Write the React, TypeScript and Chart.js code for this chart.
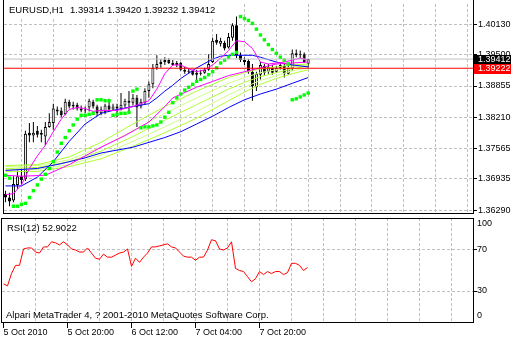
import React, { useEffect, useRef } from 'react';
import { Chart, registerables } from 'chart.js';

Chart.register(...registerables);

// ---------------- data ----------------
const symbolTitle = 'EURUSD,H1';
const lastBarText = ['1.39314', '1.39420', '1.39232', '1.39412'];
const rsiTitle = 'RSI(12) 52.9022';
const copyright = 'Alpari MetaTrader 4, ? 2001-2010 MetaQuotes Software Corp.';

const opens = [
  1.3663, 1.3655, 1.3649, 1.3681, 1.3699, 1.3693, 1.3789, 1.3783, 1.3793, 1.3785,
  1.3781, 1.3801, 1.3809, 1.3837, 1.3835, 1.3827, 1.3853, 1.3843, 1.3847, 1.3839,
  1.3835, 1.3841, 1.3853, 1.3843, 1.3829, 1.3831, 1.3845, 1.3837, 1.3843, 1.3839,
  1.3845, 1.3855, 1.3851, 1.3861, 1.3843, 1.3851, 1.3875, 1.3889, 1.3923, 1.3931,
  1.3935, 1.3939, 1.3933, 1.3929, 1.3933, 1.3919, 1.3915, 1.3917, 1.3909, 1.3913,
  1.3913, 1.3919, 1.3935, 1.3981, 1.3973, 1.3975, 1.3965, 1.3985, 1.4011, 1.3949,
  1.3939, 1.3937, 1.3915, 1.3883, 1.3909, 1.3927, 1.3915, 1.3923, 1.3915, 1.3923,
  1.3927, 1.3911, 1.3921, 1.3953, 1.3949, 1.3951, 1.39314,
];
const highs = [
  1.3669, 1.3665, 1.3699, 1.3711, 1.3715, 1.3793, 1.3809, 1.3811, 1.3803, 1.3795,
  1.3811, 1.3829, 1.3849, 1.3843, 1.3841, 1.3859, 1.3857, 1.3853, 1.3851, 1.3845,
  1.3843, 1.3859, 1.3857, 1.3847, 1.3843, 1.3849, 1.3859, 1.3849, 1.3849, 1.3871,
  1.3859, 1.3875, 1.3869, 1.3867, 1.3859, 1.3881, 1.3895, 1.3931, 1.3949, 1.3941,
  1.3945, 1.3943, 1.3939, 1.3937, 1.3935, 1.3925, 1.3921, 1.3919, 1.3919, 1.3919,
  1.3923, 1.3951, 1.3985, 1.3993, 1.3985, 1.3979, 1.3995, 1.4015, 1.4029, 1.3955,
  1.3945, 1.3941, 1.3931, 1.3915, 1.3935, 1.3931, 1.3931, 1.3929, 1.3927, 1.3933,
  1.3931, 1.3927, 1.3961, 1.3961, 1.3959, 1.3955, 1.3942,
];
const lows = [
  1.3645, 1.3637, 1.3645, 1.3673, 1.3683, 1.3689, 1.3769, 1.3769, 1.3779, 1.3769,
  1.3763, 1.3799, 1.3795, 1.3825, 1.3821, 1.3825, 1.3839, 1.3837, 1.3835, 1.3831,
  1.3829, 1.3833, 1.3839, 1.3823, 1.3825, 1.3827, 1.3833, 1.3835, 1.3821, 1.3835,
  1.3841, 1.3829, 1.3845, 1.3801, 1.3839, 1.3847, 1.3861, 1.3881, 1.3919, 1.3923,
  1.3929, 1.3931, 1.3927, 1.3925, 1.3917, 1.3911, 1.3911, 1.3907, 1.3895, 1.3907,
  1.3911, 1.3917, 1.3933, 1.3971, 1.3967, 1.3959, 1.3963, 1.3979, 1.3943, 1.3935,
  1.3929, 1.3911, 1.3855, 1.3875, 1.3899, 1.3907, 1.3911, 1.3909, 1.3913, 1.3919,
  1.3903, 1.3909, 1.3917, 1.3945, 1.3943, 1.3933, 1.39232,
];
const closes = [
  1.3655, 1.3647, 1.3683, 1.3699, 1.3691, 1.3787, 1.3783, 1.3789, 1.3785, 1.3789,
  1.3801, 1.3811, 1.3839, 1.3833, 1.3825, 1.3853, 1.3843, 1.3847, 1.3839, 1.3835,
  1.3837, 1.3855, 1.3843, 1.3829, 1.3837, 1.3845, 1.3837, 1.3843, 1.3839, 1.3847,
  1.3855, 1.3851, 1.3861, 1.3841, 1.3853, 1.3875, 1.3889, 1.3923, 1.3931, 1.3935,
  1.3939, 1.3933, 1.3929, 1.3933, 1.3919, 1.3915, 1.3917, 1.3909, 1.3913, 1.3911,
  1.3919, 1.3931, 1.3979, 1.3975, 1.3979, 1.3963, 1.3987, 1.4011, 1.3949, 1.3939,
  1.3935, 1.3915, 1.3885, 1.3911, 1.3929, 1.3913, 1.3925, 1.3913, 1.3923, 1.3929,
  1.3911, 1.3923, 1.3953, 1.3949, 1.3951, 1.3935, 1.39412,
];

// Parabolic SAR, one value per bar
const sar = [
  1.3701, 1.3695, 1.3637, 1.3637, 1.3641, 1.3643, 1.3655, 1.3669, 1.3681, 1.3693,
  1.3703, 1.3715, 1.3729, 1.3749, 1.3767, 1.3779, 1.3793, 1.3805, 1.3817, 1.3825,
  1.3825, 1.3827, 1.3829, 1.3857, 1.3857, 1.3855, 1.3855, 1.3825, 1.3827, 1.3829,
  1.3829, 1.3831, 1.3875, 1.3879, 1.3799, 1.3801, 1.3801, 1.3803, 1.3805, 1.3811,
  1.3821, 1.3831, 1.3851, 1.3861, 1.3869, 1.3877, 1.3883, 1.3889, 1.3895, 1.3899,
  1.3903, 1.3909, 1.3915, 1.3923, 1.3933, 1.3939, 1.3945, 1.3951, 1.3955, 1.4029,
  1.4025, 1.4021, 1.4015, 1.4003, 1.3991, 1.3981, 1.3971, 1.3961, 1.3953, 1.3945,
  1.3939, 1.3931, 1.3857, 1.3859, 1.3863, 1.3867, 1.3871,
];

// moving averages: [bar index, price]
const magentaFast = [
  [0, 1.3661], [2, 1.3663], [4, 1.3681], [6, 1.3715], [8, 1.3741], [10, 1.3763], [12, 1.3791],
  [14, 1.3817], [16, 1.3837], [18, 1.3841], [20, 1.3839], [22, 1.3833], [24, 1.3835], [26, 1.3835],
  [28, 1.3835], [30, 1.3839], [32, 1.3843], [34, 1.3849], [36, 1.3855], [38, 1.3879], [40, 1.3911],
  [42, 1.3929], [44, 1.3929], [46, 1.3921], [48, 1.3915], [50, 1.3919], [52, 1.3929], [54, 1.3943],
  [56, 1.3959], [58, 1.3979], [60, 1.3977], [62, 1.3963], [63, 1.3949], [64, 1.3935], [66, 1.3931],
  [70, 1.3935], [74, 1.3943], [76, 1.3939],
];
const magentaSlow = [
  [0, 1.3701], [4, 1.3699], [10, 1.3701], [16, 1.3723], [20, 1.3741], [24, 1.3759], [30, 1.3783],
  [36, 1.3811], [40, 1.3843], [42, 1.3861], [48, 1.3883], [52, 1.3895], [56, 1.3907], [60, 1.3915],
  [64, 1.3923], [68, 1.3931], [72, 1.3933], [76, 1.3935],
];
const blueFast = [
  [0, 1.3679], [4, 1.3679], [8, 1.3697], [12, 1.3729], [16, 1.3771], [20, 1.3807], [24, 1.3829],
  [28, 1.3837], [32, 1.3843], [36, 1.3849], [38, 1.3861], [40, 1.3875], [42, 1.3887], [44, 1.3901],
  [48, 1.3923], [52, 1.3941], [54, 1.3947], [56, 1.3949], [60, 1.3949], [62, 1.3949], [64, 1.3945],
  [68, 1.3935], [72, 1.3929], [76, 1.3925],
];
const blueSlow = [
  [0, 1.3711], [8, 1.3715], [14, 1.3725], [20, 1.3737], [24, 1.3747], [32, 1.3759], [40, 1.3779],
  [44, 1.3791], [48, 1.3807], [52, 1.3823], [56, 1.3841], [60, 1.3857], [64, 1.3869], [68, 1.3879],
  [72, 1.3891], [76, 1.3903],
];
const ribbonBars = [0, 8, 16, 24, 32, 40, 48, 56, 60, 64, 68, 72, 76];
const ribbon1 = [1.3721, 1.3723, 1.3739, 1.3769, 1.3807, 1.3843, 1.3875, 1.3903, 1.3913, 1.3921, 1.3925, 1.3929, 1.3931];
const ribbon2 = [1.3719, 1.3721, 1.3733, 1.3759, 1.3793, 1.3829, 1.3861, 1.3891, 1.3903, 1.3913, 1.3919, 1.3925, 1.3929];
const ribbon3 = [1.3715, 1.3717, 1.3729, 1.3751, 1.3781, 1.3815, 1.3847, 1.3879, 1.3893, 1.3905, 1.3913, 1.3921, 1.3927];
const ribbon4 = [1.3713, 1.3713, 1.3723, 1.3743, 1.3771, 1.3801, 1.3833, 1.3867, 1.3883, 1.3897, 1.3907, 1.3917, 1.3923];
const ribbon5 = [1.3709, 1.3709, 1.3719, 1.3735, 1.3761, 1.3789, 1.3819, 1.3855, 1.3873, 1.3889, 1.3901, 1.3911, 1.3919];

const bidPrice = 1.39412;
const hLinePrice = 1.39222;

const rsi = [
  37, 35, 47, 55, 55, 71, 72, 72, 68, 67,
  73, 73, 78, 77, 75, 78, 75, 71, 70, 68,
  68, 72, 67, 62, 61, 66, 63, 63, 65, 67,
  68, 71, 54, 62, 58, 63, 67, 73, 73, 74,
  75, 76, 73, 72, 68, 64, 63, 63, 60, 63,
  63, 70, 80, 79, 71, 70, 72, 78, 52, 50,
  49, 44, 39, 42, 49, 46, 49, 47, 49, 49,
  46, 48, 57, 57, 55, 50, 52.9022,
];

const priceTicks = [1.4013, 1.395, 1.38855, 1.3821, 1.37565, 1.36935, 1.3629];
const rsiLevels = [70, 30];
const rsiBoundLabels = ['100', '0'];
const gridBars = [8, 16, 24, 32, 40, 48, 56, 64, 72, 80, 88, 96, 104, 112];
const timeTickBars = [0, 8, 16, 24, 32, 40, 48, 56, 64, 72, 80, 88, 96, 104, 112];
const timeLabelBars = [0, 16, 32, 48, 64];
const timeLabels = ['5 Oct 2010', '5 Oct 20:00', '6 Oct 12:00', '7 Oct 04:00', '7 Oct 20:00'];

// ---------------- layout ----------------
const W = 511;
const MAIN_H = 217;
const RSI_H = 123;
const AXIS_W = 38;
const X_MIN = -0.375;
const X_MAX = 117.375;
const P_MIN = 1.3623;
const P_MAX = 1.4055;
const R_MIN = -1.2;
const R_MAX = 101.2;
const FONT = "'Liberation Sans', Arial, sans-serif";
const FS = 9;
const FS_TEXT = 9.5;
const GRID = '#C0C0C0';
const DASH = [3, 2];

export default function App() {
  const mainRef = useRef<HTMLCanvasElement | null>(null);
  const rsiRef = useRef<HTMLCanvasElement | null>(null);

  useEffect(() => {
    document.body.style.margin = '0';
    const bars = opens.map((_, i) => i);
    const pts = (arr: number[][]) => arr.map(([i, v]) => ({ x: i, y: v }));
    const ribbonPts = (vals: number[]) => ribbonBars.map((b, k) => ({ x: b, y: vals[k] }));
    const line = (label: string, data: any[], color: string, order: number) => ({
      type: 'line', label, data, borderColor: color, backgroundColor: color, borderWidth: 1,
      pointRadius: 0, pointHoverRadius: 0, tension: 0, fill: false, order,
    });

    const frameMain = {
      id: 'frameMain',
      afterDraw(chart: any) {
        const { ctx, chartArea: a, scales } = chart;
        ctx.save();
        ctx.strokeStyle = '#000';
        ctx.lineWidth = 1;
        ctx.beginPath();
        ctx.moveTo(a.left - 0.5, 0); ctx.lineTo(a.left - 0.5, a.bottom + 1);
        ctx.moveTo(a.right + 0.5, 0); ctx.lineTo(a.right + 0.5, a.bottom + 1);
        ctx.moveTo(a.left - 1, a.bottom + 0.5); ctx.lineTo(a.right + 1, a.bottom + 0.5);
        ctx.stroke();
        ctx.font = `${FS_TEXT}px ${FONT}`;
        ctx.textBaseline = 'middle';
        ctx.textAlign = 'left';
        const head2 = lastBarText.join(' ');
        const endX = a.left + 66 + ctx.measureText(head2).width;
        ctx.fillStyle = '#fff';
        ctx.fillRect(a.left, 0, endX - a.left + 2, 17);
        ctx.fillStyle = '#000';
        ctx.fillText(symbolTitle, a.left + 5, 10);
        ctx.fillText(head2, a.left + 66, 10);
        ctx.font = `${FS}px ${FONT}`;
        const y = scales.y;
        const boxes: [number, string][] = [[bidPrice, '#000000'], [hLinePrice, '#FF0000']];
        boxes.forEach(([p, c]) => {
          const top = Math.ceil(y.getPixelForValue(p) - 5);
          ctx.fillStyle = c;
          ctx.fillRect(a.right + 1, top, chart.width - a.right - 1, 10);
          ctx.fillStyle = '#fff';
          ctx.fillText(p.toFixed(5), a.right + 5, top + 5);
        });
        ctx.restore();
      },
    };

    const frameRsi = {
      id: 'frameRsi',
      afterDraw(chart: any) {
        const { ctx, chartArea: a } = chart;
        ctx.save();
        ctx.strokeStyle = '#000';
        ctx.lineWidth = 1;
        ctx.beginPath();
        ctx.moveTo(a.left - 0.5, a.top); ctx.lineTo(a.left - 0.5, a.bottom);
        ctx.moveTo(a.right + 0.5, a.top); ctx.lineTo(a.right + 0.5, a.bottom);
        ctx.moveTo(a.left - 1, a.top + 0.5); ctx.lineTo(a.right + 1, a.top + 0.5);
        ctx.moveTo(a.left - 1, a.bottom - 0.5); ctx.lineTo(a.right + 1, a.bottom - 0.5);
        ctx.stroke();
        ctx.textBaseline = 'middle';
        ctx.textAlign = 'left';
        ctx.fillStyle = '#000';
        ctx.font = `${FS_TEXT}px ${FONT}`;
        ctx.fillText(rsiTitle, a.left + 5, a.top + 10);
        ctx.fillText(copyright, a.left + 4, a.bottom - 8);
        ctx.font = `${FS}px ${FONT}`;
        ctx.fillText(rsiBoundLabels[0], a.right + 4, a.top + 6);
        ctx.fillText(rsiBoundLabels[1], a.right + 4, a.bottom - 7);
        ctx.restore();
      },
    };

    const main = new Chart(mainRef.current as HTMLCanvasElement, {
      type: 'bar',
      data: {
        datasets: [
          line('bid', [{ x: X_MIN, y: bidPrice }, { x: X_MAX, y: bidPrice }], '#C0C0C0', 1),
          line('hline', [{ x: X_MIN, y: hLinePrice }, { x: X_MAX, y: hLinePrice }], '#FF0000', 1),
          {
            type: 'line', label: 'SAR', data: bars.map((i) => ({ x: i, y: sar[i] })), showLine: false,
            pointRadius: 2.4, pointStyle: 'rect', pointBackgroundColor: '#00FF00', pointBorderColor: '#00FF00',
            pointBorderWidth: 0, borderColor: '#00FF00', order: 2,
          },
          line('maMagentaFast', pts(magentaFast), '#FF00FF', 3),
          line('maMagentaSlow', pts(magentaSlow), '#FF00FF', 3),
          line('maBlueFast', pts(blueFast), '#0000FF', 4),
          line('maBlueSlow', pts(blueSlow), '#0000FF', 4),
          line('r1', ribbonPts(ribbon1), '#ADFF2F', 5),
          line('r2', ribbonPts(ribbon2), '#CCFF80', 5),
          line('r3', ribbonPts(ribbon3), '#ADFF2F', 5),
          line('r4', ribbonPts(ribbon4), '#CCFF80', 5),
          line('r5', ribbonPts(ribbon5), '#ADFF2F', 5),
          {
            type: 'bar', label: 'body', data: bars.map((i) => ({ x: i, y: [opens[i], closes[i]] })),
            backgroundColor: bars.map((i) => (closes[i] >= opens[i] ? '#FFFFFF' : '#000000')),
            borderColor: '#000000', borderWidth: 1, borderSkipped: false, barThickness: 3,
            grouped: false, inflateAmount: 0, minBarLength: 1, order: 8,
          },
          {
            type: 'bar', label: 'wick', data: bars.map((i) => ({ x: i, y: [lows[i], highs[i]] })),
            backgroundColor: '#000000', borderWidth: 0, barThickness: 1, grouped: false,
            inflateAmount: 0, minBarLength: 1, order: 9,
          },
        ] as any,
      },
      options: {
        responsive: false,
        animation: false,
        events: [],
        layout: { padding: { left: 2, right: 0, top: 0, bottom: 1 } },
        plugins: { legend: { display: false }, tooltip: { enabled: false } },
        scales: {
          x: {
            type: 'linear', min: X_MIN, max: X_MAX, offset: false,
            afterBuildTicks: (s: any) => { s.ticks = gridBars.map((v) => ({ value: v })); },
            afterFit: (s: any) => { s.height = 0; s.paddingLeft = 0; s.paddingRight = 0; },
            ticks: { display: false },
            grid: { color: GRID, lineWidth: 1, drawTicks: false },
            border: { display: false, dash: DASH },
          },
          y: {
            type: 'linear', position: 'right', min: P_MIN, max: P_MAX,
            afterBuildTicks: (s: any) => { s.ticks = priceTicks.map((v) => ({ value: v })); },
            afterFit: (s: any) => { s.width = AXIS_W; s.paddingTop = 0; s.paddingBottom = 0; },
            ticks: {
              autoSkip: false, padding: 1, color: '#000', font: { family: FONT, size: FS },
              callback: (v: any) => Number(v).toFixed(5),
            },
            grid: { color: GRID, lineWidth: 1, drawTicks: true, tickLength: 4, tickColor: '#000', tickWidth: 1 },
            border: { display: false, dash: DASH },
          },
        },
      } as any,
      plugins: [frameMain],
    });

    const rsiChart = new Chart(rsiRef.current as HTMLCanvasElement, {
      type: 'line',
      data: {
        datasets: [
          {
            label: 'RSI', data: bars.map((i) => ({ x: i, y: rsi[i] })), borderColor: '#FF0000',
            backgroundColor: '#FF0000', borderWidth: 1, pointRadius: 0, tension: 0, fill: false,
          },
        ],
      },
      options: {
        responsive: false,
        animation: false,
        events: [],
        layout: { padding: { left: 2, right: 0, top: 1, bottom: 0 } },
        plugins: { legend: { display: false }, tooltip: { enabled: false } },
        scales: {
          x: {
            type: 'linear', min: X_MIN, max: X_MAX, offset: false, position: 'bottom',
            afterBuildTicks: (s: any) => { s.ticks = timeTickBars.map((v) => ({ value: v })); },
            afterFit: (s: any) => { s.height = RSI_H - 106; s.paddingLeft = 0; s.paddingRight = 0; },
            ticks: {
              autoSkip: false, maxRotation: 0, minRotation: 0, align: 'start', padding: -1,
              color: '#000', font: { family: FONT, size: FS },
              callback: (v: any) => {
                const k = timeLabelBars.indexOf(Number(v));
                return k >= 0 ? timeLabels[k] : '';
              },
            },
            grid: {
              color: (c: any) => (c.tick && c.tick.value > 0 ? GRID : 'rgba(0,0,0,0)'),
              tickColor: (c: any) => (c.tick && timeLabelBars.indexOf(c.tick.value) >= 0 ? '#000' : 'rgba(0,0,0,0)'),
              lineWidth: 1, drawTicks: true, tickLength: 5, tickWidth: 1,
            },
            border: { display: false, dash: DASH },
          },
          y: {
            type: 'linear', position: 'right', min: R_MIN, max: R_MAX,
            afterBuildTicks: (s: any) => { s.ticks = rsiLevels.map((v) => ({ value: v })); },
            afterFit: (s: any) => { s.width = AXIS_W; s.paddingTop = 0; s.paddingBottom = 0; },
            ticks: { autoSkip: false, padding: 0, color: '#000', font: { family: FONT, size: FS }, callback: (v: any) => String(v) },
            grid: { color: GRID, lineWidth: 1, drawTicks: true, tickLength: 4, tickColor: '#000', tickWidth: 1 },
            border: { display: false, dash: DASH },
          },
        },
      } as any,
      plugins: [frameRsi],
    });

    return () => {
      main.destroy();
      rsiChart.destroy();
    };
  }, []);

  return (
    <div style={{ position: 'fixed', left: 0, top: 0, width: W, height: MAIN_H + RSI_H, background: '#fff' }}>
      <canvas ref={mainRef} width={W} height={MAIN_H} style={{ position: 'absolute', left: 0, top: 0, display: 'block' }} />
      <canvas ref={rsiRef} width={W} height={RSI_H} style={{ position: 'absolute', left: 0, top: MAIN_H, display: 'block' }} />
    </div>
  );
}
